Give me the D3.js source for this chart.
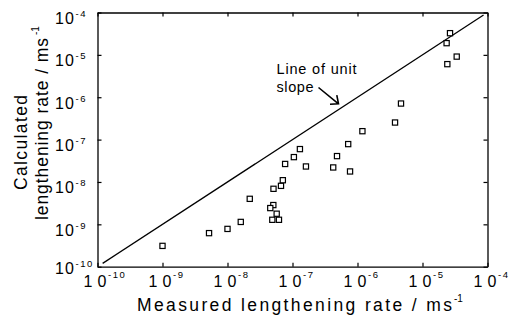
<!DOCTYPE html>
<html>
<head>
<meta charset="utf-8">
<script src="https://cdn.jsdelivr.net/npm/d3@7/dist/d3.min.js"></script>
<style>
  html, body { margin: 0; padding: 0; background: #fff; }
  svg { display: block; font-family: "Liberation Sans", Arial, Helvetica, sans-serif; }
</style>
</head>
<body>
<svg id="chart" width="513" height="321"></svg>
<script>
// ---- data ----
const tickExponents = [-10, -9, -8, -7, -6, -5, -4];
const measured = [1.0e-9, 5.2e-9, 1.0e-8, 1.6e-8, 2.2e-8, 5.1e-8, 6.65e-8, 7.1e-8, 7.7e-8, 1.05e-7,
  1.3e-7, 1.61e-7, 5.07e-8, 4.55e-8, 5.71e-8, 4.89e-8, 6.19e-8, 4.23e-7, 4.84e-7, 7.19e-7,
  7.68e-7, 1.19e-6, 3.78e-6, 4.67e-6, 2.65e-5, 2.35e-5, 3.36e-5, 2.41e-5];
const calculated = [3.1e-10, 6.2e-10, 7.8e-10, 1.14e-9, 4.0e-9, 6.9e-9, 8.1e-9, 1.1e-8, 2.66e-8, 3.86e-8,
  5.97e-8, 2.32e-8, 2.85e-9, 2.42e-9, 1.78e-9, 1.28e-9, 1.28e-9, 2.2e-8, 4.08e-8, 7.83e-8,
  1.77e-8, 1.58e-7, 2.53e-7, 7.1e-7, 3.25e-5, 1.89e-5, 9.1e-6, 6.04e-6];
const unitLine = [1.2e-10, 8.7e-5];
const xTitle = "Measured lengthening rate / ms";
const yTitle1 = "Calculated";
const yTitle2 = "lengthening  rate / ms";
const annotation1 = "Line of unit";
const annotation2 = "slope";

// ---- layout ----
const L = 97.5, R = 487.5, T = 12.5, B = 266.7;
const svg = d3.select("#chart");
const x = d3.scaleLog().domain([1e-10, 1e-4]).range([L, R]);
const y = d3.scaleLog().domain([1e-10, 1e-4]).range([B, T]);
const tickVals = tickExponents.map(e => Math.pow(10, e));

// axes with inward ticks, no labels
function styleAxis(g) {
  g.selectAll("path.domain").attr("stroke", "#000").attr("stroke-width", 1.3);
  g.selectAll(".tick line").attr("stroke", "#000").attr("stroke-width", 1.2);
  g.selectAll(".tick text").remove();
}
svg.append("g").attr("transform", `translate(0,${B})`)
  .call(d3.axisBottom(x).tickValues(tickVals).tickSizeInner(-4).tickSizeOuter(0).tickFormat(""))
  .call(styleAxis);
svg.append("g").attr("transform", `translate(0,${T})`)
  .call(d3.axisTop(x).tickValues(tickVals).tickSizeInner(-4).tickSizeOuter(0).tickFormat(""))
  .call(styleAxis);
svg.append("g").attr("transform", `translate(${L},0)`)
  .call(d3.axisLeft(y).tickValues(tickVals).tickSizeInner(-4).tickSizeOuter(0).tickFormat(""))
  .call(styleAxis);
svg.append("g").attr("transform", `translate(${R},0)`)
  .call(d3.axisRight(y).tickValues(tickVals).tickSizeInner(-4).tickSizeOuter(0).tickFormat(""))
  .call(styleAxis);

// x tick labels
tickExponents.forEach(e => {
  const px = x(Math.pow(10, e));
  const t = svg.append("text").attr("x", px - 14).attr("y", B + 20).attr("font-size", 16);
  t.append("tspan").text("1");
  t.append("tspan").attr("dx", 5).text("0");
  svg.append("text").attr("x", px + 10.5).attr("y", B + 11.7)
    .attr("font-size", 9.5).attr("letter-spacing", 1.5).text("-" + Math.abs(e));
});
// y tick labels
tickExponents.forEach(e => {
  const py = y(Math.pow(10, e));
  const off = e === -10 ? 7.5 : 11.5;
  const t = svg.append("text").attr("x", 55).attr("y", py + off).attr("font-size", 16);
  t.append("tspan").text("1");
  t.append("tspan").attr("dx", 1).text("0");
  svg.append("text").attr("x", 75.5).attr("y", py + off - 7)
    .attr("font-size", 9.5).attr("letter-spacing", 1.5).text("-" + Math.abs(e));
});

// axis titles
svg.append("text").attr("x", 137).attr("y", 311).attr("font-size", 17.5)
  .attr("textLength", 315).attr("lengthAdjust", "spacing").text(xTitle);
svg.append("text").attr("x", 454).attr("y", 302).attr("font-size", 10).text("-1");

svg.append("text").attr("transform", "translate(26.5,142.5) rotate(-90)")
  .attr("text-anchor", "middle").attr("font-size", 17.5)
  .attr("textLength", 95).attr("lengthAdjust", "spacing").text(yTitle1);
const yt2 = svg.append("g").attr("transform", "translate(47.5,220) rotate(-90)");
yt2.append("text").attr("x", 0).attr("y", 0).attr("font-size", 17.5)
  .attr("textLength", 182).attr("lengthAdjust", "spacing").text(yTitle2);
yt2.append("text").attr("x", 185).attr("y", -9).attr("font-size", 10).text("-1");

// unit slope line
const line = d3.line().x(d => x(d)).y(d => y(d));
svg.append("path").attr("d", line(unitLine)).attr("fill", "none")
  .attr("stroke", "#000").attr("stroke-width", 1.3);

// annotation
svg.append("text").attr("x", 276.5).attr("y", 73.5).attr("font-size", 14.5)
  .attr("textLength", 80).attr("lengthAdjust", "spacing").text(annotation1);
svg.append("text").attr("x", 276.5).attr("y", 91.5).attr("font-size", 14.5)
  .attr("textLength", 37).attr("lengthAdjust", "spacing").text(annotation2);
svg.append("path").attr("d", "M318.5,87.5 L338.5,103.8 M330,104.2 L338.5,103.8 L336.8,95.2")
  .attr("fill", "none").attr("stroke", "#000").attr("stroke-width", 1.6);

// points
const pts = measured.map((m, i) => [m, calculated[i]]);
svg.append("g").selectAll("rect").data(pts).join("rect")
  .attr("x", d => x(d[0]) - 2.6).attr("y", d => y(d[1]) - 2.6)
  .attr("width", 5.2).attr("height", 5.2)
  .attr("fill", "#fff").attr("stroke", "#000").attr("stroke-width", 1.2);
</script>
</body>
</html>
